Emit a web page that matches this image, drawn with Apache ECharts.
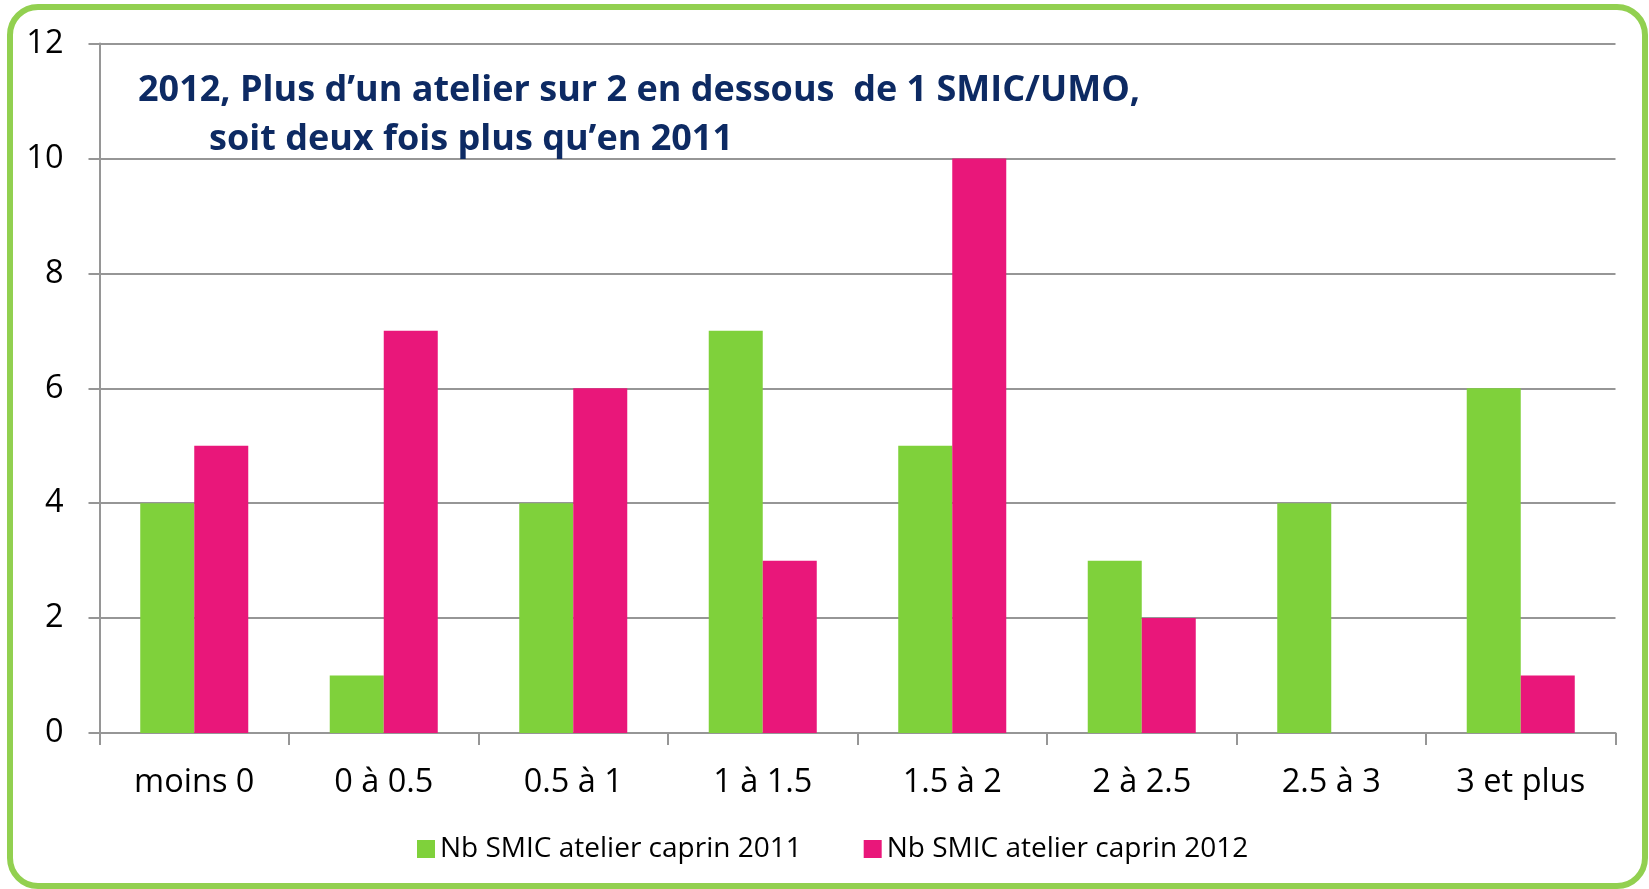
<!DOCTYPE html>
<html>
<head>
<meta charset="utf-8">
<script src="https://cdn.jsdelivr.net/npm/echarts@6/dist/echarts.min.js"></script>
<style>
  html, body { margin: 0; padding: 0; background: #fff; }
  #chart { width: 1649px; height: 889px; }
</style>
</head>
<body>
<div id="chart"></div>
<script>
var categories = ["moins 0", "0 à 0.5", "0.5 à 1", "1 à 1.5", "1.5 à 2", "2 à 2.5", "2.5 à 3", "3 et plus"];
var values2011 = [4, 1, 4, 7, 5, 3, 4, 6];
var values2012 = [5, 7, 6, 3, 10, 2, 0, 1];
var seriesNames = ["Nb SMIC atelier caprin 2011", "Nb SMIC atelier caprin 2012"];
var titleLines = ["2012, Plus d’un atelier sur 2 en dessous  de 1 SMIC/UMO,", "soit deux fois plus qu’en 2011"];

var myChart = echarts.init(document.getElementById("chart"));
var axisColor = "#969696";
var option = {
  animation: false,
  textStyle: { fontFamily: "Open Sans" },
  title: [
    {
      text: titleLines[0],
      left: 133,
      top: 68,
      textStyle: { color: "#0d2a63", fontSize: 36, fontWeight: "bold", fontFamily: "Open Sans" }
    },
    {
      text: titleLines[1],
      left: 204,
      top: 117,
      textStyle: { color: "#0d2a63", fontSize: 36, fontWeight: "bold", fontFamily: "Open Sans" }
    }
  ],
  graphic: [
    {
      type: "rect",
      shape: { x: 10, y: 7, width: 1635, height: 879, r: 28 },
      style: { fill: null, stroke: "#92d050", lineWidth: 6 },
      z: 100
    }
  ],
  legend: {
    left: 412,
    top: 830,
    itemWidth: 18,
    itemHeight: 18,
    itemGap: 62,
    icon: "rect",
    textStyle: { fontSize: 28, color: "#000", fontFamily: "Open Sans" },
    data: seriesNames
  },
  grid: { left: 99.5, right: 33.5, top: 43.5, bottom: 156 },
  xAxis: {
    type: "category",
    data: categories,
    axisLine: { lineStyle: { color: axisColor, width: 2 } },
    axisTick: { show: true, length: 12, lineStyle: { color: axisColor, width: 2 } },
    axisLabel: { color: "#000", fontSize: 32.5, margin: 33, interval: 0 },
    splitLine: { show: false }
  },
  yAxis: {
    type: "value",
    min: 0,
    max: 12,
    interval: 2,
    axisLine: { show: true, lineStyle: { color: axisColor, width: 2 } },
    axisTick: { show: true, length: 11, lineStyle: { color: axisColor, width: 2 } },
    axisLabel: { color: "#000", fontSize: 32.5, margin: 36 },
    splitLine: { show: true, lineStyle: { color: axisColor, width: 2 } }
  },
  series: [
    {
      name: seriesNames[0],
      type: "bar",
      data: values2011,
      barGap: "0%",
      barCategoryGap: "43%",
      itemStyle: { color: "#7fd13b" }
    },
    {
      name: seriesNames[1],
      type: "bar",
      data: values2012,
      barGap: "0%",
      barCategoryGap: "43%",
      itemStyle: { color: "#e9177a" }
    }
  ]
};
option && myChart.setOption(option);
</script>
</body>
</html>
